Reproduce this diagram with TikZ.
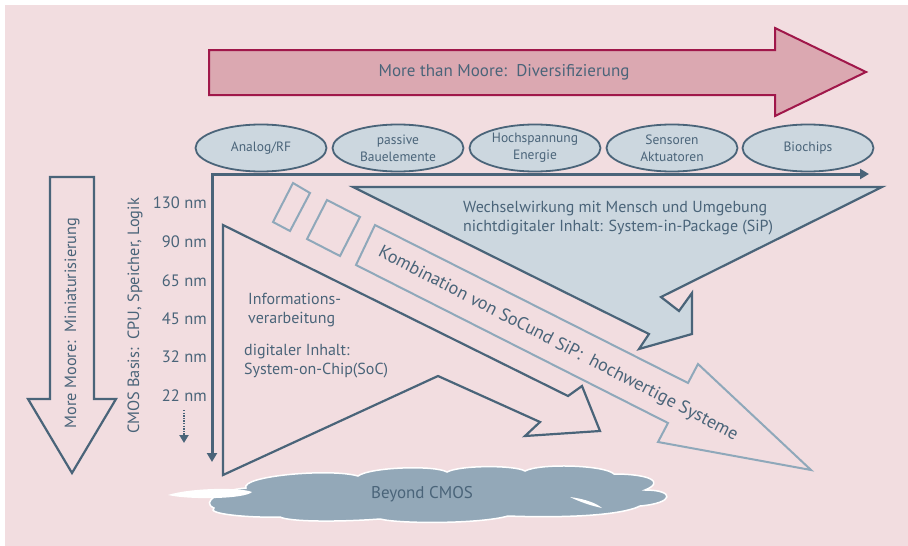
\documentclass[tikz,border=0pt]{standalone}
\usepackage{fontspec}
\setmainfont{PT Sans}
\usetikzlibrary{arrows.meta, positioning, shapes.geometric}
\definecolor{mmpink}{HTML}{F2DDE0}
\definecolor{mmrose}{HTML}{DBA8B1}
\definecolor{mmcrimson}{HTML}{A0174A}
\definecolor{mmslate}{HTML}{4A6479}
\definecolor{mmpale}{HTML}{CCD7DF}
\definecolor{mmsteel}{HTML}{8FA8BA}
\definecolor{mmcloud}{HTML}{93A8B8}

\begin{document}
\begin{tikzpicture}[
  x=1pt, y=-1pt,
  every node/.style={text=mmslate, inner sep=0pt},
  fieldnode/.style={ellipse, draw=mmslate, fill=mmpale, line width=1.8pt, minimum width=131pt, minimum height=47pt, align=center, font=\fontsize{13.5}{17}\selectfont},
  nmnode/.style={anchor=east, font=\fontsize{16.5}{18}\selectfont},
  textnode/.style={anchor=west, align=left, font=\fontsize{16}{19.5}\selectfont},
  sidenode/.style={rotate=90, font=\fontsize{16.3}{18}\selectfont},
  darkshape/.style={draw=mmslate, line width=2.2pt, line join=miter},
  paleshape/.style={draw=mmsteel, line width=2pt, line join=miter},
  axis/.style={draw=mmslate, line width=3pt, {Triangle[length=9pt,width=10pt]}-{Triangle[length=9pt,width=10pt]}},
]

\useasboundingbox (0,0) rectangle (908,546);
\fill[mmpink] (5,5) rectangle (908,546);

% More than Moore arrow
\draw[fill=mmrose, draw=mmcrimson, line width=2pt] (209,50) -- (775,50) -- (775,28) -- (866,72) -- (775,116) -- (775,95) -- (209,95) -- cycle;
\node[font=\fontsize{17}{20}\selectfont] (diversity) at (504,72) {More than Moore:\ \ Diversifizierung};

% Application fields
\node[fieldnode] (analog) at (261,148) {Analog/RF};
\node[fieldnode] (passive) at (398,148) {passive\\Bauelemente};
\node[fieldnode] (hv) at (535,148) {Hochspannung\\Energie};
\node[fieldnode] (sensor) at (672,148) {Sensoren\\Aktuatoren};
\node[fieldnode] (bio) at (808,148) {Biochips};

% Axes
\coordinate (origin) at (212,174);
\coordinate (xend) at (869,174);
\coordinate (yend) at (212,462);
\draw[axis] (yend) -- (origin) -- (xend);

% More Moore arrow
\draw[darkshape] (50,177) -- (94,177) -- (94,399) -- (116,399) -- (72,473) -- (28,399) -- (50,399) -- cycle;
\node[sidenode] (miniatur) at (72,323) {More Moore:\ \ Miniaturisierung};
\node[sidenode] (cmos) at (135,316) {CMOS Basis:\ \ CPU, Speicher, Logik};

% Technology nodes
\node[nmnode] (nm130) at (207,203) {130 nm};
\node[nmnode] (nm90) at (207,242) {90 nm};
\node[nmnode] (nm65) at (207,281) {65 nm};
\node[nmnode] (nm45) at (207,319) {45 nm};
\node[nmnode] (nm32) at (207,357) {32 nm};
\node[nmnode] (nm22) at (207,396) {22 nm};
\coordinate (dottop) at (184,410);
\coordinate (dotend) at (184,443);
\draw[mmslate, line width=2.6pt, dash pattern=on 1.4pt off 1.2pt, -{Triangle[length=8pt,width=9pt]}] (dottop) -- (dotend);

% SoC arrow
\draw[darkshape] (223,225) -- (568,396) -- (582,386) -- (600,431) -- (525,436) -- (540,422) -- (438,376) -- (223,475) -- cycle;
\node[textnode] (infoproc) at (248,310) {Informations-\\verarbeitung};
\node[textnode] (soc) at (244,361) {digitaler Inhalt:\\System-on-Chip(SoC)};

% SiP arrow
\draw[darkshape, fill=mmpale] (353,187) -- (882,187) -- (661,297) -- (679,311) -- (692,293) -- (692,334) -- (639,349) -- (649,334) -- cycle;
\node[textnode] (sip) at (463,218) {Wechselwirkung mit Mensch und Umgebung\\nichtdigitaler Inhalt: System-in-Package (SiP)};

% Combination arrow
\draw[paleshape] (293,183) -- (310,193) -- (290,231) -- (273,222) -- cycle;
\draw[paleshape] (327,200) -- (360,217) -- (340,256) -- (307,239) -- cycle;
\draw[paleshape] (375,225) -- (688,383) -- (698,364) -- (811,470) -- (658,442) -- (668,423) -- (356,265) -- cycle;
\node[rotate=-27.3, font=\fontsize{18}{20}\selectfont] (combo) at (558,344) {Kombination von SoCund SiP:\ \ hochwertige Systeme};

% Beyond CMOS cloud
\draw[fill=mmcloud, draw=white, line width=1.5pt] (214,508)
  .. controls (200,502) and (220,490) .. (246,488)
  .. controls (240,476) and (330,468) .. (358,476)
  .. controls (370,467) and (435,465) .. (447,472)
  .. controls (460,465) and (515,465) .. (525,471)
  .. controls (540,463) and (605,465) .. (614,474)
  .. controls (650,474) and (665,482) .. (645,490)
  .. controls (675,490) and (675,503) .. (640,506)
  .. controls (620,516) and (560,518) .. (508,516)
  .. controls (480,524) and (400,524) .. (380,519)
  .. controls (340,522) and (290,522) .. (280,517)
  .. controls (250,518) and (205,514) .. (214,508) -- cycle;
\fill[white] (168,495) .. controls (190,488) and (240,487) .. (252,492) .. controls (245,499) and (190,500) .. (168,495) -- cycle;
\fill[white] (570,497) .. controls (585,499) and (596,503) .. (602,508) .. controls (592,506) and (580,502) .. (570,497) -- cycle;
\node[font=\fontsize{17}{18}\selectfont] (beyond) at (422,494) {Beyond CMOS};

\end{tikzpicture}
\end{document}
